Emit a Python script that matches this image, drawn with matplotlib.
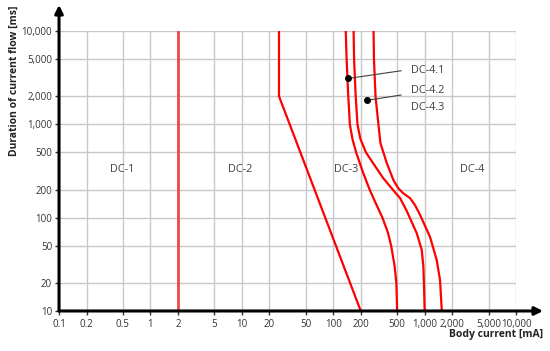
import matplotlib.pyplot as plt
from matplotlib.ticker import FixedLocator, NullLocator

plt.rcParams['font.family'] = ['Open Sans', 'DejaVu Sans']

# tick values
x_ticks = [0.1, 0.2, 0.5, 1, 2, 5, 10, 20, 50, 100, 200, 500, 1000, 2000, 5000, 10000]
x_labels = ['0.1', '0.2', '0.5', '1', '2', '5', '10', '20', '50', '100', '200', '500',
            '1,000', '2,000', '5,000', '10,000']
y_ticks = [10, 20, 50, 100, 200, 500, 1000, 2000, 5000, 10000]
y_labels = ['10', '20', '50', '100', '200', '500', '1,000', '2,000', '5,000', '10,000']

# curve a (DC-1 / DC-2)
a_x = [2, 2]
a_y = [10, 10000]

# curve b (DC-2 / DC-3)
b_x = [25.5, 25.5, 200]
b_y = [10000, 2000, 10]

# curve c1
c1_x = [137, 140, 146, 152, 162, 178, 213, 250, 285, 345, 395, 430, 470, 490, 500]
c1_y = [10000, 5000, 2000, 1000, 700, 500, 300, 200, 150, 100, 70, 50, 30, 20, 10]

# curve c2
c2_x = [167, 169, 176, 184, 198, 228, 272, 351, 451, 538, 637, 820, 929, 968, 985, 1000]
c2_y = [10000, 5000, 2000, 1000, 700, 500, 385, 266, 198, 162, 118, 68, 45, 30, 18, 10]

# curve c3
c3_x = [276, 279, 290, 312, 328, 385, 455, 512, 580, 692, 785, 891, 1146, 1356, 1473, 1540]
c3_y = [10000, 5000, 2000, 1000, 630, 385, 253, 208, 183, 162, 136, 107, 62, 35, 21.4, 10]

# zone labels
zones = ['DC-1', 'DC-2', 'DC-3', 'DC-4']
zone_x = [0.49, 9.5, 138, 3300]
zone_y = 332

fig = plt.figure(figsize=(5.5, 3.51), dpi=100)
ax = fig.add_axes([0.1073, 0.114, 0.831, 0.7977])
ax.set_xscale('log')
ax.set_yscale('log')
ax.set_xlim(0.1, 10000)
ax.set_ylim(10, 10000)

ax.xaxis.set_major_locator(FixedLocator(x_ticks))
ax.xaxis.set_minor_locator(NullLocator())
ax.yaxis.set_major_locator(FixedLocator(y_ticks))
ax.yaxis.set_minor_locator(NullLocator())
ax.set_xticklabels(x_labels)
ax.set_yticklabels(y_labels)
ax.tick_params(labelsize=7, colors='#333333', length=3, width=1, pad=2)
ax.tick_params(axis='x', pad=3)

ax.grid(True, color='#c8c8c8', lw=1)
ax.set_axisbelow(True)
for s in ['top', 'right', 'left', 'bottom']:
    ax.spines[s].set_visible(False)

# curves
ax.plot(a_x, a_y, color='#f04848', lw=2)
ax.plot(b_x, b_y, color='red', lw=1.6)
ax.plot(c1_x, c1_y, color='red', lw=1.6)
ax.plot(c2_x, c2_y, color='red', lw=1.6)
ax.plot(c3_x, c3_y, color='red', lw=1.6)

for name, zx in zip(zones, zone_x):
    ax.text(zx, zone_y, name, ha='center', va='center', fontsize=7.8, color='#404040')

# annotations
ax.plot([146, 552], [3100, 3750], color='#404040', lw=0.8)
ax.plot([146], [3100], 'o', color='black', ms=4)
ax.plot([234, 552], [1807, 2061], color='#404040', lw=0.8)
ax.plot([234], [1807], 'o', color='black', ms=4)
ax.text(710, 3750, 'DC-4.1', ha='left', va='center', fontsize=7.8, color='#404040')
ax.text(710, 2292, 'DC-4.2', ha='left', va='center', fontsize=7.8, color='#404040')
ax.text(710, 1507, 'DC-4.3', ha='left', va='center', fontsize=7.8, color='#404040')

# axis arrows
ax.annotate('', xy=(0, 1.093), xytext=(0, 0), xycoords='axes fraction',
            arrowprops=dict(arrowstyle='-|>', lw=2.2, color='black', mutation_scale=12,
                            shrinkA=0, shrinkB=0))
ax.annotate('', xy=(1.059, 0), xytext=(0, 0), xycoords='axes fraction',
            arrowprops=dict(arrowstyle='-|>', lw=2.2, color='black', mutation_scale=12,
                            shrinkA=0, shrinkB=0))

fig.text(0.026, 0.769, 'Duration of current flow [ms]', rotation=90, ha='center', va='center',
         fontsize=7.5, fontweight='bold', color='#222222')
fig.text(0.987, 0.046, 'Body current [mA]', ha='right', va='center',
         fontsize=7.5, fontweight='bold', color='#222222')

fig.savefig('out.png', dpi=100)
